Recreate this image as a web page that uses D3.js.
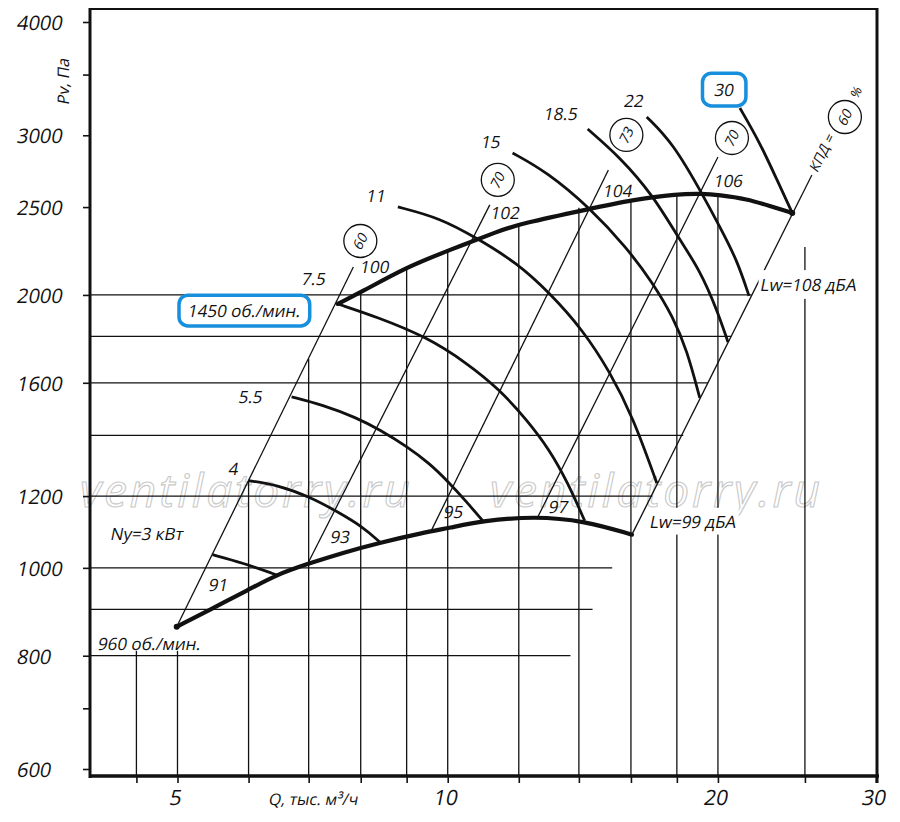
<!DOCTYPE html>
<html>
<head>
<meta charset="utf-8">
<script src="https://cdn.jsdelivr.net/npm/d3@7"></script>
<style>
  body { margin: 0; background: #fff; }
  text { font-family: "Open Sans", sans-serif; fill: #111; }
</style>
</head>
<body>
<svg id="chart" width="900" height="822"></svg>
<script>
// axis ticks
const xTicks = [4.5, 5, 6, 7, 8, 9, 10, 12, 14, 16, 18, 20, 25, 30];
const xTickLabels = [5, 10, 20, 30];
const yTicks = [600, 700, 800, 1000, 1200, 1600, 2000, 2500, 3000, 3500, 4000];
const yTickLabels = [600, 800, 1000, 1200, 1600, 2000, 2500, 3000, 4000];

// grid lines (pressure level -> where it stops, flow -> where it stops)
const hGridP = [2000, 1800, 1600, 1400, 1200, 1000, 900, 800];
const hGridEndQ = [21.8, 20.7, 19.5, 18.3, 16.9, 15.25, 14.5, 13.7];
const vGridQ = [4.5, 5, 6, 7, 8, 9, 10, 12, 14, 16, 18, 20, 25];
const vGridTopP = [810, 810, 1248, 1700, 2010, 2147, 2237, 2395, 2495, 2546, 2570, 2570, 2259];

// fan curves, [Q thous. m3/h, Pv Pa]
const curve1450 = [[7.54,1955],[7.98,2010],[9.0,2147],[10,2237],[11.43,2355],[12.03,2395],[14.4,2489],[16.04,2546],[18.05,2585],[19.19,2587],[20.05,2578],[21.55,2552],[22.85,2507],[24.2,2463]];
const curve960 = [[4.99,861],[5.43,899],[6.0,946],[6.45,983],[6.98,1010],[7.64,1039],[8.4,1066],[9.38,1093],[10.05,1107],[10.94,1127],[12.5,1140],[14.2,1127],[16.04,1088]];

// motor power lines
const powerKW = ["Ny=3 кВт", "4", "5.5", "7.5", "11", "15", "18.5", "22", "30"];
const powerCurves = [
  [[5.47,1034],[5.91,1013],[6.45,982]],
  [[6.0,1248],[6.45,1235],[7.02,1198],[7.54,1153],[8.04,1110],[8.40,1068]],
  [[6.70,1544],[7.25,1513],[7.92,1464],[8.40,1420],[9.0,1362],[9.55,1303],[10.0,1246],[10.5,1182],[10.94,1127]],
  [[7.54,1955],[8.33,1892],[9.47,1798],[10.5,1683],[11.43,1572],[12.25,1456],[12.99,1349],[13.61,1241],[14.21,1127]],
  [[8.80,2501],[9.80,2432],[10.77,2311],[11.94,2170],[12.99,2010],[14.14,1830],[15.16,1645],[16.08,1467],[17.10,1240]],
  [[11.81,2868],[12.89,2734],[14.40,2495],[15.84,2253],[16.92,2062],[17.82,1892],[18.47,1739],[19.09,1540]],
  [[14.32,3048],[15.55,2839],[16.92,2578],[18.05,2317],[19.09,2131],[19.95,1926],[20.52,1775]],
  [[16.66,3143],[17.82,2942],[19.24,2578],[20.10,2377],[21.0,2186],[21.66,1995]],
  [[21.16,3215],[22.28,2942],[23.27,2679],[24.2,2463]]
];

// efficiency rays (КПД) with sound power at 960 / 1450 rpm
const kpd = ["60", "70", "73", "70", "60"];
const lwLow = ["91", "93", "95", "97", "Lw=99 дБА"];
const lwHigh = ["100", "102", "104", "106", "Lw=108 дБА"];
const rays = [
  [[4.99,861],[7.85,2147]],
  [[6.98,1010],[11.14,2514]],
  [[9.6,1102],[15.1,2747]],
  [[12.6,1138],[20.0,2839]],
  [[16.04,1088],[25.45,2712]]
];

// label offsets in px
const powerOff = [[-30,-15],[-11,-6],[-30,6],[-13,-19],[-13,-5],[-13,-5],[-11,-9],[-4,-10],[-7,-12]];
const lowOff = [[31,-36],[22,-21],[11,-12],[10,-4],[17,-7]];
const highOff = [[6,6],[0,14],[-6,27],[-5,30]];
const circOff = [[7,-26],[8,-25],[18,-35],[14,-19],[33,-58]];

const svg = d3.select("#chart");
const x = d3.scaleLog().domain([4, 30]).range([90.5, 876]);
const y = d3.scaleLog().domain([600, 4000]).range([769, 22]);
const smooth = d3.line().x(d => x(d[0])).y(d => y(d[1])).curve(d3.curveBasis);
const straight = d3.line().x(d => x(d[0])).y(d => y(d[1]));
const rayAngle = -Math.atan2(y(1000) - y(4000), x(20) - x(10)) * 180 / Math.PI;

// slanted label: upright glyphs sheared, like the drawing's oblique font
function label(px, py, txt, size, opts = {}) {
  const g = svg.append("g")
    .attr("transform", `translate(${px},${py})` + (opts.rotate != null ? ` rotate(${opts.rotate})` : ""));
  g.append("text")
    .attr("transform", "skewX(-11)")
    .attr("font-size", size)
    .attr("text-anchor", opts.anchor || "start")
    .attr("dy", opts.dy || 0)
    .text(txt);
  return g;
}
function boxed(g, stroke, pad) {
  const t = g.select("text");
  const b = t.node().getBBox();
  g.insert("rect", "text")
    .attr("x", b.x - pad[0] + 1).attr("y", b.y - pad[1])
    .attr("width", b.width + 2 * pad[0]).attr("height", b.height + 2 * pad[1])
    .attr("rx", stroke ? 9 : 0)
    .attr("fill", "#fff").attr("stroke", stroke || "none").attr("stroke-width", 3.5);
}

// watermark
[80, 490].forEach(wx => {
  svg.append("text")
    .attr("x", wx).attr("y", 507)
    .attr("font-size", 46).attr("font-style", "italic").attr("textLength", 330)
    .style("fill", "none").attr("stroke", "#c9c9c9").attr("stroke-width", 1.1)
    .text("ventilatorry.ru");
});

// grid
const grid = svg.append("g").attr("stroke", "#111").attr("stroke-width", 1.3);
grid.selectAll("line.h").data(hGridP).join("line").attr("class", "h")
  .attr("x1", 90).attr("x2", (d, i) => x(hGridEndQ[i]))
  .attr("y1", d => y(d)).attr("y2", d => y(d));
grid.selectAll("line.v").data(vGridQ).join("line").attr("class", "v")
  .attr("x1", d => x(d)).attr("x2", d => x(d))
  .attr("y1", 776).attr("y2", (d, i) => y(vGridTopP[i]));

// rays
svg.append("g").selectAll("path").data(rays).join("path")
  .attr("d", straight).attr("fill", "none").attr("stroke", "#111").attr("stroke-width", 1.3);

// power lines
svg.append("g").selectAll("path").data(powerCurves).join("path")
  .attr("d", smooth).attr("fill", "none").attr("stroke", "#111").attr("stroke-width", 2.8);

// fan curves
svg.append("g").selectAll("path").data([curve1450, curve960]).join("path")
  .attr("d", smooth).attr("fill", "none").attr("stroke", "#111").attr("stroke-width", 4.2)
  .attr("stroke-linecap", "round");
[curve960[0], curve1450[curve1450.length - 1]].forEach(p => {
  svg.append("circle").attr("cx", x(p[0])).attr("cy", y(p[1])).attr("r", 3).attr("fill", "#111");
});

// axes (ticks only, labels drawn below)
const gy = svg.append("g").attr("transform", "translate(90,0)")
  .call(d3.axisLeft(y).tickValues(yTicks).tickSize(7).tickFormat(""));
gy.select(".domain").remove();
gy.selectAll("line").attr("stroke", "#111").attr("stroke-width", 1.6);
yTickLabels.forEach(v => label(16, y(v) + 8, v, 20));

const gx = svg.append("g").attr("transform", "translate(0,776)")
  .call(d3.axisBottom(x).tickValues(xTicks).tickSize(7).tickFormat(""));
gx.select(".domain").remove();
gx.selectAll("line").attr("stroke", "#111").attr("stroke-width", 1.6);
xTickLabels.forEach(v => label(x(v) - 3, 805, v, 21, { anchor: "middle" }));

// frame
const frame = svg.append("g").attr("stroke", "#111");
frame.append("line").attr("x1", 90).attr("x2", 90).attr("y1", 8).attr("y2", 778).attr("stroke-width", 3);
frame.append("line").attr("x1", 89).attr("x2", 879).attr("y1", 776).attr("y2", 776).attr("stroke-width", 3.5);
frame.append("line").attr("x1", 89).attr("x2", 878).attr("y1", 9).attr("y2", 9).attr("stroke-width", 2);
frame.append("line").attr("x1", 877).attr("x2", 877).attr("y1", 8).attr("y2", 783).attr("stroke-width", 3);

// axis titles
label(69, 82, "Pv, Па", 16, { rotate: -90, anchor: "middle" });
label(268, 805, "Q, тыс. м³/ч", 16);

// power labels
const powerLabels = powerCurves.map((c, i) =>
  label(x(c[0][0]) + powerOff[i][0], y(c[0][1]) + powerOff[i][1], powerKW[i], 17, { anchor: "end" }));
boxed(powerLabels[8], "#178fdc", [12, 5]);

// sound labels
rays.forEach((r, i) => {
  const lo = label(x(r[0][0]) + lowOff[i][0], y(r[0][1]) + lowOff[i][1], lwLow[i], 17);
  if (i === 4) boxed(lo, null, [2, 2]);
});
rays.slice(0, 4).forEach((r, i) => {
  label(x(r[1][0]) + highOff[i][0], y(r[1][1]) + highOff[i][1], lwHigh[i], 17);
});
const q2000 = Math.sqrt(2000 * rays[4][0][0] ** 2 / rays[4][0][1]);
boxed(label(x(q2000) + 9, y(2000) - 4, lwHigh[4], 17), null, [2, 3]);

// efficiency circles
rays.forEach((r, i) => {
  const cx = x(r[1][0]) + circOff[i][0], cy = y(r[1][1]) + circOff[i][1];
  svg.append("circle").attr("cx", cx).attr("cy", cy).attr("r", 16.5)
    .attr("fill", "none").attr("stroke", "#111").attr("stroke-width", 1.3);
  label(cx, cy, kpd[i], 14, { rotate: rayAngle, anchor: "middle", dy: 5 });
});
const top5 = [x(rays[4][1][0]), y(rays[4][1][1])];
label(top5[0] + 11, top5[1] - 22, "КПД =", 14, { rotate: rayAngle, anchor: "middle", dy: 4 });
label(top5[0] + 48, top5[1] - 80, "%", 13, { rotate: rayAngle, anchor: "middle" });

// speed labels
boxed(label(187, 317, "1450 об./мин.", 17), "#178fdc", [9, 4]);
label(97, 650, "960 об./мин.", 17);
</script>
</body>
</html>
